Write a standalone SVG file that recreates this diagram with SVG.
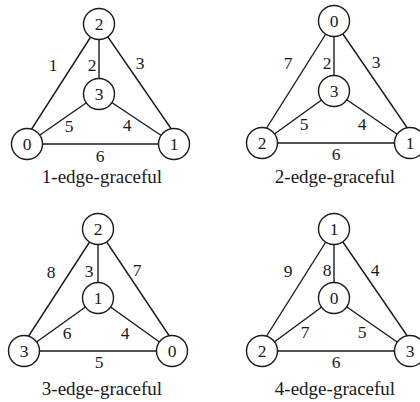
<svg xmlns="http://www.w3.org/2000/svg" width="420" height="402" viewBox="0 0 420 402">
<style>
.e{stroke:#1a1a1a;stroke-width:1.4;fill:none}
.n circle{fill:#fff;stroke:#1a1a1a;stroke-width:1.4}
text{fill:#1a1a1a;text-anchor:middle;font-family:"Liberation Serif","Times New Roman",serif}
.d{font-size:17.5px}
.c{font-size:19px}
</style>
<rect width="420" height="402" fill="#fff"/>
<g id="connectors">
<line class="e" x1="99" y1="24" x2="99" y2="94"/>
<line class="e" x1="99" y1="24" x2="31" y2="130"/>
<line class="e" x1="99" y1="24" x2="172" y2="130"/>
<line class="e" x1="99" y1="94" x2="27" y2="144"/>
<line class="e" x1="99" y1="94" x2="174" y2="144"/>
<line class="e" x1="27" y1="144" x2="174" y2="144"/>
<line class="e" x1="334" y1="21" x2="334" y2="91"/>
<line class="e" x1="334" y1="21" x2="266" y2="129"/>
<line class="e" x1="334" y1="21" x2="408" y2="129"/>
<line class="e" x1="334" y1="91" x2="262" y2="143"/>
<line class="e" x1="334" y1="91" x2="410" y2="143"/>
<line class="e" x1="262" y1="143" x2="410" y2="143"/>
<line class="e" x1="98" y1="229" x2="98" y2="298"/>
<line class="e" x1="98" y1="229" x2="28" y2="337"/>
<line class="e" x1="98" y1="229" x2="170" y2="337"/>
<line class="e" x1="98" y1="298" x2="24" y2="351"/>
<line class="e" x1="98" y1="298" x2="172" y2="351"/>
<line class="e" x1="24" y1="351" x2="172" y2="351"/>
<line class="e" x1="334" y1="229" x2="334" y2="298"/>
<line class="e" x1="334" y1="229" x2="266" y2="337"/>
<line class="e" x1="334" y1="229" x2="408" y2="337"/>
<line class="e" x1="334" y1="298" x2="262" y2="351"/>
<line class="e" x1="334" y1="298" x2="410" y2="351"/>
<line class="e" x1="262" y1="351" x2="410" y2="351"/>
</g>
<g id="edge-labels" class="d">
<text x="53" y="71">1</text><text x="92" y="71">2</text><text x="140" y="69">3</text>
<text x="69" y="132">5</text><text x="127" y="131">4</text><text x="100" y="162">6</text>
<text x="288" y="69">7</text><text x="327" y="69">2</text><text x="376" y="68">3</text>
<text x="304" y="130">5</text><text x="362" y="130">4</text><text x="336" y="160">6</text>
<text x="51" y="278">8</text><text x="89" y="277">3</text><text x="137" y="276">7</text>
<text x="67" y="339">6</text><text x="125" y="339">4</text><text x="99" y="368">5</text>
<text x="288" y="277">9</text><text x="327" y="276">8</text><text x="375" y="276">4</text>
<text x="305" y="338">7</text><text x="362" y="338">5</text><text x="336" y="368">6</text>
</g>
<g id="p1-n2" class="n"><circle cx="99" cy="24" r="15.5"/><text class="d" x="99" y="30">2</text></g>
<g id="p1-n3" class="n"><circle cx="99" cy="94" r="15.5"/><text class="d" x="99" y="100">3</text></g>
<g id="p1-n0" class="n"><circle cx="27" cy="144" r="15.5"/><text class="d" x="27" y="150">0</text></g>
<g id="p1-n1" class="n"><circle cx="174" cy="144" r="15.5"/><text class="d" x="174" y="150">1</text></g>
<g id="p2-n0" class="n"><circle cx="334" cy="21" r="15.5"/><text class="d" x="334" y="27">0</text></g>
<g id="p2-n3" class="n"><circle cx="334" cy="91" r="15.5"/><text class="d" x="334" y="97">3</text></g>
<g id="p2-n2" class="n"><circle cx="262" cy="143" r="15.5"/><text class="d" x="262" y="149">2</text></g>
<g id="p2-n1" class="n"><circle cx="410" cy="143" r="15.5"/><text class="d" x="410" y="149">1</text></g>
<g id="p3-n2" class="n"><circle cx="98" cy="229" r="15.5"/><text class="d" x="98" y="235">2</text></g>
<g id="p3-n1" class="n"><circle cx="98" cy="298" r="15.5"/><text class="d" x="98" y="304">1</text></g>
<g id="p3-n3" class="n"><circle cx="24" cy="351" r="15.5"/><text class="d" x="24" y="357">3</text></g>
<g id="p3-n0" class="n"><circle cx="172" cy="351" r="15.5"/><text class="d" x="172" y="357">0</text></g>
<g id="p4-n1" class="n"><circle cx="334" cy="229" r="15.5"/><text class="d" x="334" y="235">1</text></g>
<g id="p4-n0" class="n"><circle cx="334" cy="298" r="15.5"/><text class="d" x="334" y="304">0</text></g>
<g id="p4-n2" class="n"><circle cx="262" cy="351" r="15.5"/><text class="d" x="262" y="357">2</text></g>
<g id="p4-n3" class="n"><circle cx="410" cy="351" r="15.5"/><text class="d" x="410" y="357">3</text></g>
<g id="captions" class="c">
<text x="102" y="183">1-edge-graceful</text>
<text x="335" y="183">2-edge-graceful</text>
<text x="102" y="395">3-edge-graceful</text>
<text x="335" y="395">4-edge-graceful</text>
</g>
</svg>
